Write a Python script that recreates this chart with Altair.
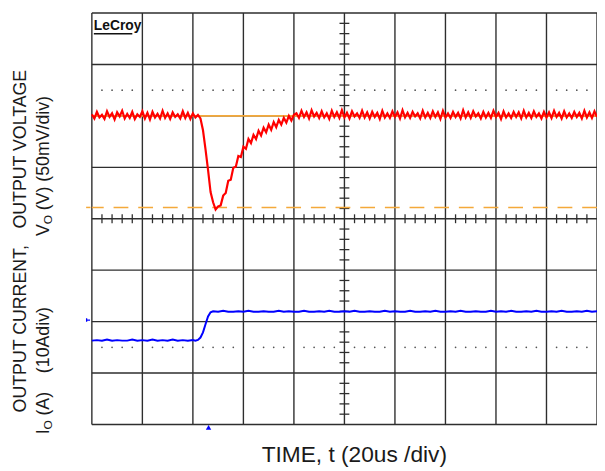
import altair as alt
import pandas as pd

# ---------------- data (in scope divisions) ----------------
# Red trace: output voltage, sampled every 0.05 div
v_pre = [6.03, 5.95, 6.08, 5.97, 6.02, 5.94, 6.09, 5.98, 6.05, 5.93,
         6.07, 5.99, 6.10, 5.95, 6.04, 5.96, 6.08, 5.94, 6.03, 5.98,
         6.09, 5.95, 6.06, 5.93, 6.08, 5.97, 6.04, 5.95, 6.10, 5.96,
         6.05, 5.94, 6.07, 5.98, 6.03, 5.95, 6.09, 5.96, 6.06, 5.94,
         6.05, 5.97, 6.02]
v_dip = [5.95, 5.72, 5.35, 4.95, 4.52, 4.32, 4.18, 4.24, 4.26, 4.45,
         4.50, 4.74, 4.76, 4.99, 5.01, 5.22, 5.20, 5.40, 5.36, 5.55,
         5.47, 5.63, 5.55, 5.71, 5.62, 5.77, 5.68, 5.83, 5.73, 5.88,
         5.78, 5.92, 5.83, 5.96, 5.87, 6.00, 5.91, 6.02]
v_post = [6.05, 5.96, 6.10, 5.98, 6.07, 5.95, 6.11, 5.99, 6.06, 5.96,
          6.09, 5.97, 6.05, 5.94, 6.10, 5.98, 6.07, 5.96, 6.11, 5.97,
          6.06, 5.95, 6.09, 5.99, 6.05, 5.96, 6.10, 5.97, 6.07, 5.95,
          6.08, 5.98, 6.06, 5.94, 6.10, 5.97, 6.05, 5.96, 6.09, 5.98,
          6.07, 5.95, 6.11, 5.97, 6.06, 5.96, 6.08, 5.99, 6.05, 5.95,
          6.10, 5.97, 6.06, 5.96, 6.09, 5.98, 6.07, 5.94, 6.10, 5.97,
          6.05, 5.96, 6.08, 5.98, 6.06, 5.95, 6.11, 5.97, 6.07, 5.96,
          6.09, 5.99, 6.05, 5.95, 6.08, 5.97, 6.06, 5.96, 6.10, 5.98,
          6.06, 5.94, 6.09, 5.97, 6.05, 5.96, 6.08, 5.98, 6.07, 5.95,
          6.10, 5.97, 6.06, 5.96, 6.09, 5.98, 6.05, 5.95, 6.08, 5.97,
          6.07, 5.96, 6.10, 5.98, 6.06, 5.95, 6.09, 5.97, 6.05, 5.96,
          6.08, 5.98, 6.06, 5.95, 6.10, 5.97, 6.07, 5.96, 6.09, 5.98]
v_red = v_pre + v_dip + v_post
t_red = [round(i * 0.05, 3) for i in range(len(v_red))]

# Blue trace: output current
i_pre = [1.63, 1.64, 1.63, 1.65, 1.63, 1.64, 1.63, 1.63, 1.65, 1.63,
         1.64, 1.63, 1.65, 1.63, 1.64, 1.63, 1.65, 1.63, 1.64, 1.63, 1.64]
t_step = [2.05, 2.10, 2.15, 2.20, 2.25, 2.30, 2.35, 2.40]
i_step = [1.63, 1.645, 1.69, 1.79, 1.95, 2.10, 2.18, 2.20]
i_post = [2.19, 2.21, 2.19, 2.19, 2.20, 2.19, 2.21, 2.19, 2.19, 2.20,
          2.19, 2.19, 2.21, 2.19, 2.20, 2.19, 2.19, 2.21, 2.19, 2.19,
          2.20, 2.19, 2.21, 2.19, 2.19, 2.20, 2.19, 2.21, 2.19, 2.19,
          2.20, 2.19, 2.19, 2.21, 2.19, 2.20, 2.19, 2.19, 2.21, 2.19,
          2.19, 2.20, 2.19, 2.21, 2.19, 2.19, 2.20, 2.19, 2.21, 2.19,
          2.19, 2.20, 2.19, 2.19, 2.21, 2.19, 2.20, 2.19, 2.21, 2.19,
          2.19, 2.20, 2.19, 2.21, 2.19, 2.19, 2.20, 2.19, 2.21, 2.19,
          2.19, 2.20, 2.19, 2.21, 2.19, 2.20]
t_blue = [round(i * 0.1, 2) for i in range(len(i_pre))] + t_step + \
         [round(2.5 + i * 0.1, 2) for i in range(len(i_post))]
i_blue = i_pre + i_step + i_post

ref_level = 6.0        # orange solid reference
min_level = 4.22       # orange dashed reference
trig_level = 2.03      # blue trigger marker
trig_time = 2.31       # trigger position marker

v_grid = list(range(11))
h_grid = list(range(9))
dot_rows = [6.5, 1.5]

# ---------------- chart ----------------
W, H = 512, 417
xs = alt.Scale(domain=[0, 10], nice=False, zero=False)
ys = alt.Scale(domain=[0, 8], nice=False, zero=False)
X = lambda f: alt.X(f, scale=xs, axis=None)
Y = lambda f: alt.Y(f, scale=ys, axis=None)
GRID = "#2e2e2e"

vlines = alt.Chart(pd.DataFrame({"x": v_grid})).mark_rule(
    color=GRID, strokeWidth=1.4).encode(x=X("x:Q"))
hlines = alt.Chart(pd.DataFrame({"y": h_grid})).mark_rule(
    color=GRID, strokeWidth=1.4).encode(y=Y("y:Q"))

minor = [k / 5 for k in range(51) if k % 5 != 0]
dots_df = pd.DataFrame([{"x": m, "y": r} for r in dot_rows for m in minor])
dots = alt.Chart(dots_df).mark_point(
    filled=True, size=3, color="#555555", opacity=1).encode(x=X("x:Q"), y=Y("y:Q"))

vt = pd.DataFrame({"y": [k / 5 for k in range(41) if k % 5 != 0], "x": 5})
vticks = alt.Chart(vt).mark_tick(
    orient="horizontal", size=10, thickness=1.3, color=GRID, opacity=1).encode(
    x=X("x:Q"), y=Y("y:Q"))
ht = pd.DataFrame({"x": minor, "y": 4})
hticks = alt.Chart(ht).mark_tick(
    orient="vertical", size=9, thickness=1.3, color=GRID, opacity=1).encode(
    x=X("x:Q"), y=Y("y:Q"))

ORANGE = "#F4A93A"
oref = alt.Chart(pd.DataFrame({"y": [ref_level]})).mark_rule(
    color=ORANGE, strokeWidth=1.6).encode(y=Y("y:Q"))
omin = alt.Chart(pd.DataFrame({"y": [min_level]})).mark_rule(
    color=ORANGE, strokeWidth=1.6, strokeDash=[15, 10]).encode(y=Y("y:Q"))

red = alt.Chart(pd.DataFrame({"t": t_red, "v": v_red})).mark_line(
    color="#FF0000", strokeWidth=2.2).encode(x=X("t:Q"), y=Y("v:Q"), order="t:Q")
blue = alt.Chart(pd.DataFrame({"t": t_blue, "i": i_blue})).mark_line(
    color="#0000FF", strokeWidth=2).encode(x=X("t:Q"), y=Y("i:Q"), order="t:Q")

# small scope markers
omark = alt.Chart(pd.DataFrame({"x": [-0.07], "y": [min_level]})).mark_point(
    shape="M-1,0L1,0", size=20, color=ORANGE, strokeWidth=1.5, opacity=1).encode(
    x=X("x:Q"), y=Y("y:Q"))
bmark = alt.Chart(pd.DataFrame({"x": [-0.07], "y": [trig_level]})).mark_point(
    shape="M-1,-1L-1,1M-1,0L1,0", size=12, color="#0000FF", strokeWidth=1.3,
    opacity=1).encode(x=X("x:Q"), y=Y("y:Q"))
tmark = alt.Chart(pd.DataFrame({"x": [trig_time]})).mark_point(
    shape="triangle-up", size=30, filled=True, color="#0000FF", opacity=1).encode(
    x=X("x:Q"), y=alt.value(H + 3))

# LeCroy logo
logo = alt.Chart(pd.DataFrame({"s": ["LeCroy"]})).mark_text(
    font="Liberation Sans", fontSize=14, fontWeight="bold", align="left",
    baseline="alphabetic", color="#111111").encode(
    x=alt.value(2), y=alt.value(17), text="s:N")
logo_ul = alt.Chart(pd.DataFrame({"a": [0]})).mark_rule(
    color="#111111", strokeWidth=1.5).encode(
    x=alt.value(2), x2=alt.value(41), y=alt.value(21))

# titles
FONT = "Liberation Sans"
TC = "#1a1a1a"
def txt(s, x, y, size, angle=0, align="center", baseline="middle"):
    kw = dict(font=FONT, fontSize=size, align=align, baseline=baseline, color=TC)
    if angle:
        kw["angle"] = angle
    return alt.Chart(pd.DataFrame({"s": [s]})).mark_text(**kw).encode(
        x=alt.value(x), y=alt.value(y), text="s:N")

xtitle = txt("TIME, t (20us /div)", 266, 455, 23, baseline="alphabetic")
l1 = txt("OUTPUT VOLTAGE", -72, 138, 18, angle=270)
l2a = txt("V", -48, 226, 18, angle=270, align="left")
l2b = txt("O", -44, 214, 12, angle=270, align="left")
l2c = txt("(V) (50mV/div)", -48, 200, 18, angle=270, align="left")
l3 = txt("OUTPUT CURRENT,", -72, 320, 18, angle=270)
l4a = txt("I", -48, 427, 18, angle=270, align="left")
l4b = txt("O", -44, 422, 12, angle=270, align="left")
l4c = txt("(A)", -48, 408, 18, angle=270, align="left")
l4d = txt("(10Adiv)", -48, 365, 18, angle=270, align="left")

chart = alt.layer(
    vlines, hlines, dots, vticks, hticks, oref, omin, red, blue,
    omark, bmark, tmark, logo, logo_ul,
    xtitle, l1, l2a, l2b, l2c, l3, l4a, l4b, l4c, l4d,
).properties(
    width=W, height=H,
    autosize=alt.AutoSizeParams(type="none"),
    padding={"left": 85, "top": 2, "right": 0, "bottom": 40},
    background="white",
).configure_view(stroke=None)

chart.save("out.html", embed_options={"renderer": "svg", "actions": False})
